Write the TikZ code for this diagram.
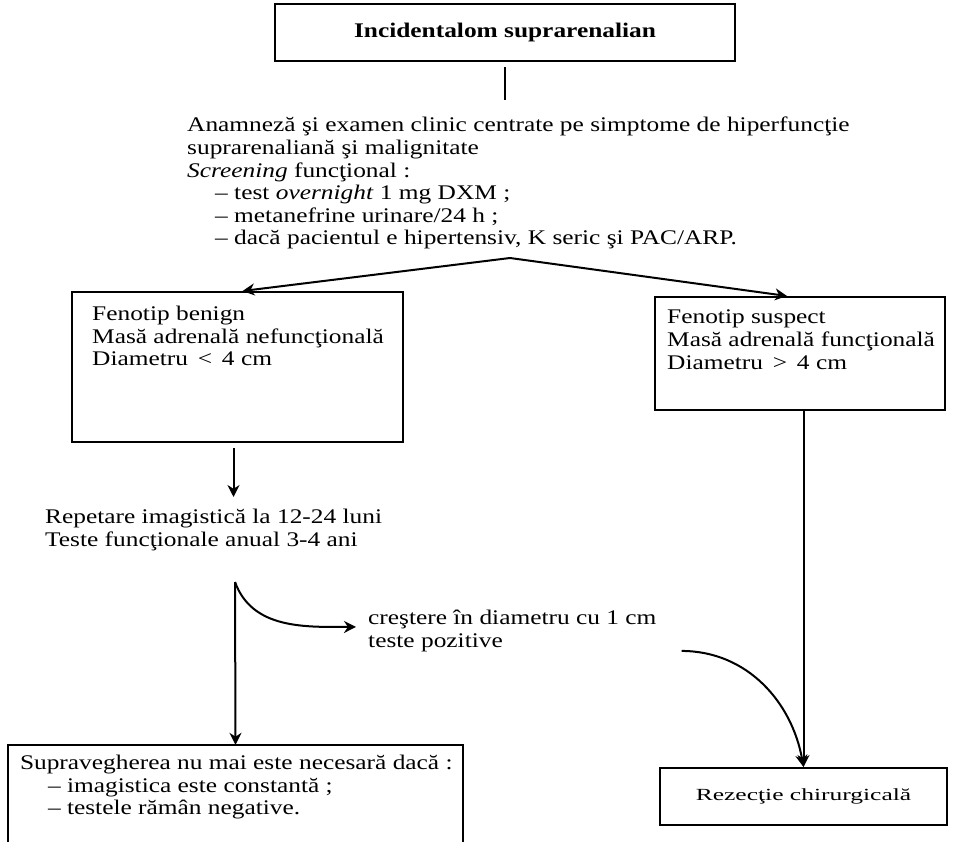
\documentclass[tikz,border=0pt]{standalone}
\usepackage{fontspec}
\setmainfont{Liberation Serif}[FakeStretch=1.22]
\newfontfamily\rezfont{Liberation Serif}[FakeStretch=1.5]
\usetikzlibrary{arrows.meta,positioning}

\newcommand{\marime}{\fontsize{20.8}{22.6}\selectfont}
\newcommand{\liniuta}[1]{\hspace*{28pt}-- #1}

\begin{document}
\begin{tikzpicture}[x=1pt,y=-1pt,
    cadru/.style={draw,line width=2pt,inner sep=0pt},
    linie/.style={line width=2pt},
    sageata/.style={line width=2pt,-{Stealth[length=12pt,width=12pt]}},
    bloc/.style={align=left,inner sep=0pt,anchor=north west,font=\marime}]
  \useasboundingbox (0,0) rectangle (957,842);

  % titlul si textul de sub el
  \node[cadru,minimum width=460pt,minimum height=57pt,font=\marime\bfseries] (incid) at (505,33) {Incidentalom suprarenalian};
  \node[bloc] (anamn) at (187,117) {Anamneză şi examen clinic centrate pe simptome de hiperfuncţie\\
    suprarenaliană şi malignitate\\
    \textit{Screening} funcţional :\\
    \liniuta{test \textit{overnight} 1 mg DXM ;}\\
    \liniuta{metanefrine urinare/24 h ;}\\
    \liniuta{dacă pacientul e hipertensiv, K seric şi PAC/ARP.}};
  \draw[linie] ([yshift=-5pt]incid.south) -- ([yshift=17pt]incid.south |- anamn.north);

  % cele doua fenotipuri
  \node[cadru,minimum width=331pt,minimum height=150pt] (benign) at (237.5,367) {};
  \node[bloc,below right=15pt and 21pt of benign.north west] (benignT) {Fenotip benign\\
    Masă adrenală nefuncţională\\
    Diametru \,<\, 4 cm};
  \node[cadru,minimum width=290pt,minimum height=113pt] (suspect) at (800,353.5) {};
  \node[bloc,below right=14pt and 13pt of suspect.north west] (suspectT) {Fenotip suspect\\
    Masă adrenală funcţională\\
    Diametru \,>\, 4 cm};
  \coordinate (ramif) at (510,258);
  \draw[sageata] (ramif) -- ([xshift=5pt]benign.north);
  \draw[sageata] (ramif) -- ([xshift=-13pt]suspect.north);

  % urmarirea
  \node[bloc] (repet) at (45,509) {Repetare imagistică la 12-24 luni\\
    Teste funcţionale anual 3-4 ani};
  \draw[sageata] ([xshift=-4pt,yshift=-5pt]benign.south) -- ([xshift=-4pt,yshift=12pt]benign.south |- repet.north);
  \coordinate (urm) at (235,582);
  \node[bloc] (cres) at (368,610) {creştere în diametru cu 1 cm\\
    teste pozitive};

  \node[minimum width=455pt,minimum height=97pt,inner sep=0pt] (supr) at (235.5,793.5) {};
  \draw[linie] (supr.south west) -- (supr.north west) -- (supr.north east) -- (supr.south east);
  \node[bloc,below right=10pt and 12pt of supr.north west] (suprT) {Supravegherea nu mai este necesară dacă :\\
    \liniuta{imagistica este constantă ;}\\
    \liniuta{testele rămân negative.}};

  \node[cadru,minimum width=287pt,minimum height=57pt,font=\rezfont\fontsize{17}{20}\selectfont] (rez) at (803.5,796.5) {Rezecţie chirurgicală};

  \draw[sageata] (urm) -- (supr.north);
  \draw[sageata] (urm) to[out=-70,in=180] ([xshift=-12pt,yshift=4pt]cres.west);
  \draw[sageata] ([xshift=25pt,yshift=-20pt]cres.east) to[out=0,in=100] (rez.north);
  \draw[sageata] (suspect.south -| rez.north) -- (rez.north);
\end{tikzpicture}
\end{document}
